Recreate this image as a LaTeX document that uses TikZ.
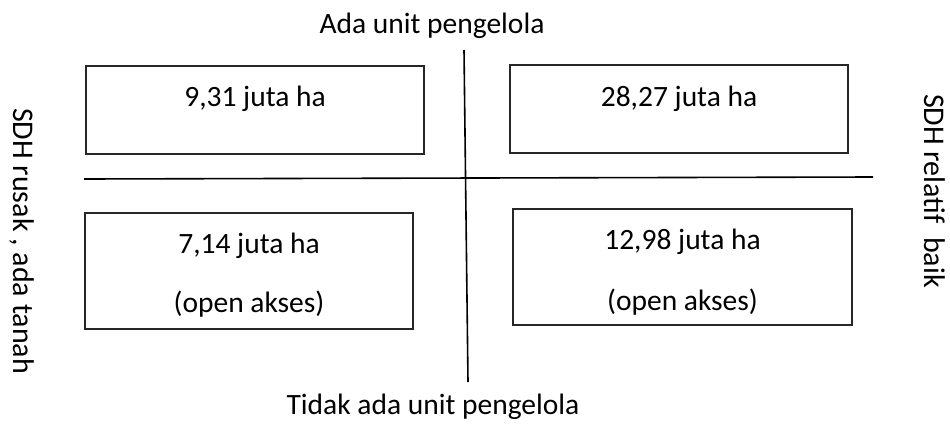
\documentclass[tikz,border=0pt]{standalone}
\usepackage{fontspec}
\setmainfont{Carlito}
\begin{document}
\begin{tikzpicture}[x=1pt,y=-1pt,
  quad/.style={draw=black!85,line width=1.5pt,rectangle,inner sep=0pt},
  lbl/.style={font=\fontsize{29.5}{31}\selectfont,inner sep=0pt,anchor=base},
  side/.style={font=\fontsize{30}{32}\selectfont,inner sep=0pt,rotate=-90},
  axis/.style={line width=1.6pt,black}]
\useasboundingbox (0,0) rectangle (950,426);
% axes
\coordinate (vt) at (464,50);
\coordinate (vb) at (468,382);
\coordinate (hl) at (84,179);
\coordinate (hr) at (873,177);
\draw[axis] (vt) -- (vb);
\draw[axis] (hl) -- (hr);
% boxes
\node[quad,minimum width=338pt,minimum height=88pt] (tl) at (255,110) {};
\node[quad,minimum width=338pt,minimum height=88pt] (tr) at (679,109) {};
\node[quad,minimum width=328pt,minimum height=116pt] (bl) at (249,271) {};
\node[quad,minimum width=339pt,minimum height=116pt] (br) at (682.5,267) {};
% box texts
\node[lbl] (tlt) at (255,106) {9,31 juta ha};
\node[lbl] (trt) at (679,106) {28,27 juta ha};
\node[lbl] (blt1) at (249,253) {7,14 juta ha};
\node[lbl] (blt2) at (249,312) {(open akses)};
\node[lbl] (brt1) at (682.5,249) {12,98 juta ha};
\node[lbl] (brt2) at (682.5,310) {(open akses)};
% axis labels
\node[lbl] (top) at (432,33) {Ada unit pengelola};
\node[lbl] (bot) at (433,414) {Tidak ada unit pengelola};
\node[side] (left) at (22,241) {SDH rusak , ada tanah};
\node[side] (right) at (935,191) {SDH relatif\ \ baik};
\end{tikzpicture}
\end{document}
